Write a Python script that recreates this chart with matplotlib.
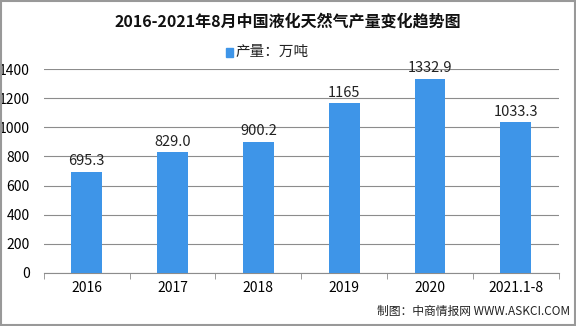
import matplotlib.pyplot as plt
from matplotlib.patches import Rectangle

plt.rcParams['font.family'] = ['Noto Sans CJK SC', 'DejaVu Sans']

categories = ['2016', '2017', '2018', '2019', '2020', '2021.1-8']
output = [695.3, 829.0, 900.2, 1165, 1332.9, 1033.3]
labels = ['695.3', '829.0', '900.2', '1165', '1332.9', '1033.3']
yticks = [0, 200, 400, 600, 800, 1000, 1200, 1400]

bar_color = '#3e95e8'

fig = plt.figure(figsize=(5.76, 3.26), dpi=100)
ax = fig.add_axes([0.076, 0.163, 0.894, 0.625])

x = list(range(len(categories)))
ax.bar(x, output, width=0.36, color=bar_color, zorder=3)
for xi, v, lab in zip(x, output, labels):
    ax.text(xi, v + 25, lab, ha='center', va='bottom', fontsize=10.5, color='#222222')

ax.set_xlim(-0.5, len(categories) - 0.5)
ax.set_ylim(0, 1400)
ax.set_yticks(yticks)
ax.set_yticklabels([str(t) for t in yticks], fontsize=10)
ax.yaxis.grid(True, color='#8c8c8c', linewidth=0.8, zorder=0)
ax.tick_params(axis='y', length=0, pad=10)

# category labels centred, tick marks between categories
ax.set_xticks(x)
ax.set_xticklabels(categories, fontsize=10)
ax.tick_params(axis='x', length=0, pad=6)
ax.set_xticks([i - 0.5 for i in range(len(categories) + 1)], minor=True)
ax.tick_params(axis='x', which='minor', length=4, color='#8c8c8c', direction='out')

for s in ['top', 'right', 'left']:
    ax.spines[s].set_visible(False)
ax.spines['bottom'].set_color('#8c8c8c')

fig.text(0.5, 0.933, '2016-2021年8月中国液化天然气产量变化趋势图', ha='center', va='center',
         fontsize=11.5, fontweight='bold', color='#111111')
fig.text(0.408, 0.84, '产量：万吨', ha='left', va='center', fontsize=10.5, color='#222222')
fig.patches.append(Rectangle((0.393, 0.826), 0.012, 0.028, transform=fig.transFigure,
                             color=bar_color, figure=fig))
fig.text(0.99, 0.045, '制图：中商情报网 WWW.ASKCI.COM', ha='right', va='center',
         fontsize=8.5, color='#222222')

fig.patches.append(Rectangle((0.001, 0.002), 0.997, 0.995, transform=fig.transFigure,
                             fill=False, edgecolor='#999999', linewidth=1.5, figure=fig))

fig.savefig('out.png', dpi=100)
